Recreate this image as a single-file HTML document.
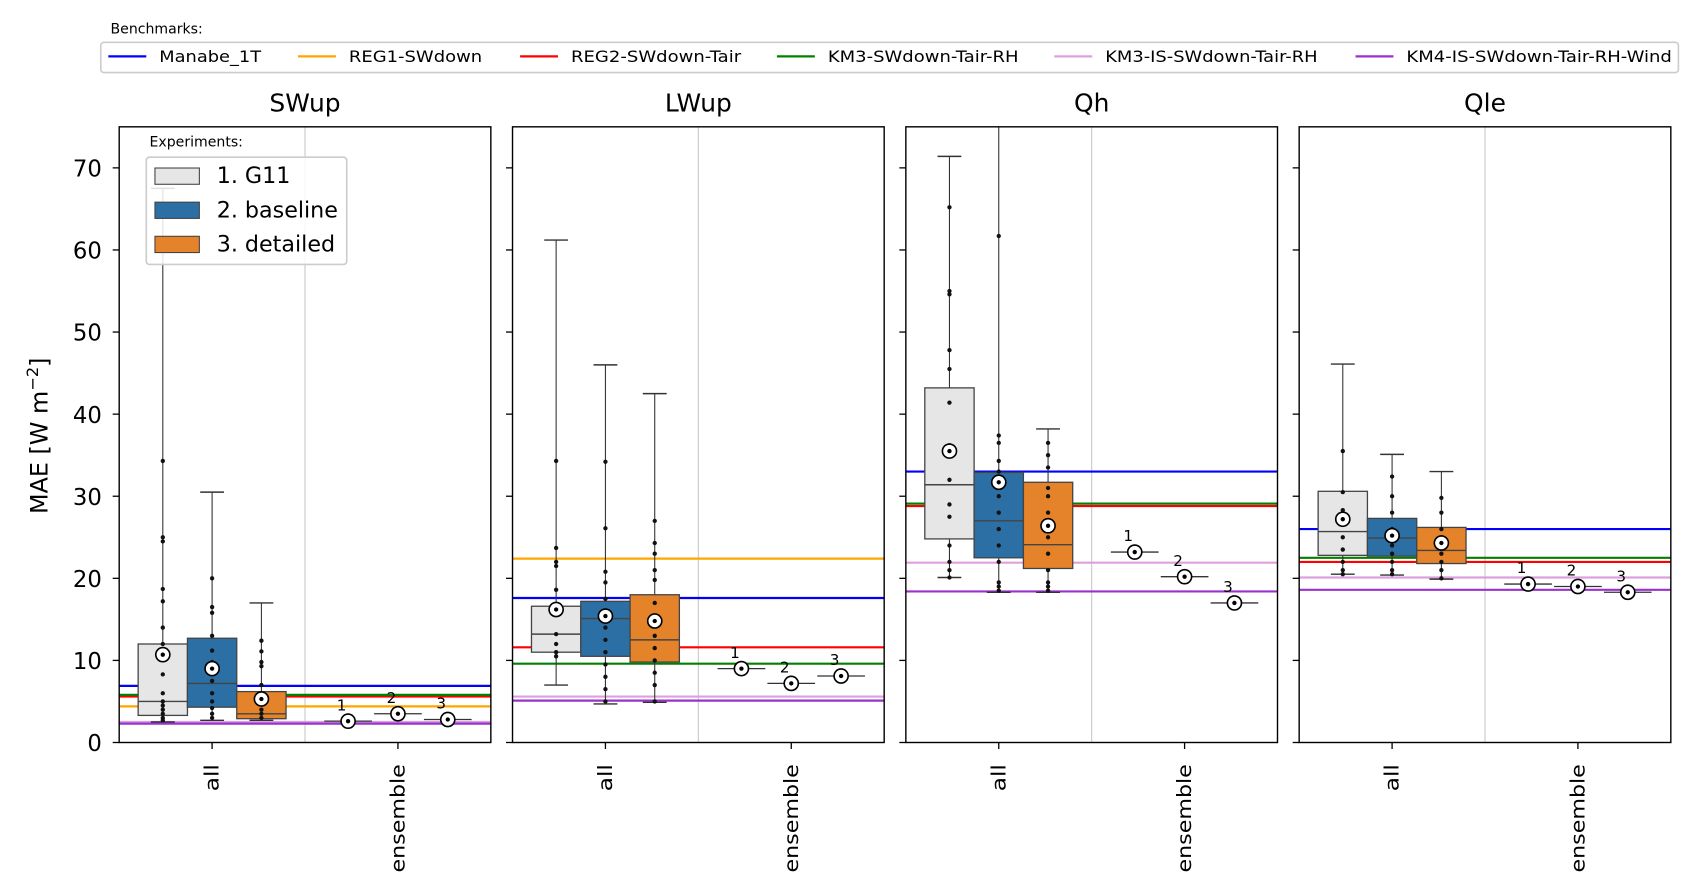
<!DOCTYPE html>
<html><head><meta charset="utf-8"><style>
html,body{margin:0;padding:0;background:#fff;}
svg{display:block;font-family:"DejaVu Sans","Liberation Sans",sans-serif;}
</style></head><body>
<svg id="chart" width="1699" height="891" viewBox="0 0 1568 822" preserveAspectRatio="none" xmlns="http://www.w3.org/2000/svg"></svg>
<script>
const panels = ["SWup","LWup","Qh","Qle"];
const yTicks = [0,10,20,30,40,50,60,70];
const benchNames = ["Manabe_1T","REG1-SWdown","REG2-SWdown-Tair","KM3-SWdown-Tair-RH","KM3-IS-SWdown-Tair-RH","KM4-IS-SWdown-Tair-RH-Wind"];
const benchColors = ["#0000ff","#ffa500","#ff0000","#008000","#dda0dd","#9932cc"];
const benchValues = [
  [6.9,4.4,5.6,5.8,2.5,2.3],
  [17.6,22.4,11.6,9.6,5.6,5.1],
  [33.0,28.9,28.8,29.1,21.9,18.4],
  [26.0,22.0,22.0,22.5,20.1,18.6]
];
const expNames = ["1. G11","2. baseline","3. detailed"];
const expColors = ["#e6e6e6","#2b6fa4","#e5832a"];
// box stats: [whiskLow, q1, median, q3, whiskHigh, mean]
const boxStats = [
  [[2.5,3.3,5.0,12.0,67.5,10.7],[2.7,4.3,7.2,12.7,30.5,9.0],[2.7,2.9,3.5,6.2,17.0,5.3]],
  [[7.0,11.0,13.2,16.6,61.2,16.2],[4.7,10.5,15.1,17.2,46.0,15.4],[4.9,9.8,12.5,18.0,42.5,14.8]],
  [[20.1,24.8,31.4,43.2,71.4,35.5],[18.3,22.5,27.0,32.9,80.0,31.7],[18.3,21.2,24.1,31.7,38.2,26.4]],
  [[20.5,22.8,25.7,30.6,46.1,27.2],[20.4,22.7,24.9,27.3,35.1,25.2],[19.9,21.8,23.4,26.2,33.0,24.3]]
];
const pointValues = [
  [[34.3,25,24.5,18.7,17.2,14,12,10.8,8.3,6,5,4.5,4,3.5,3,2.7],[20,16.5,15.8,13,11.2,9.8,8.7,7.5,6,5,4.2,3.5,3],[12.4,11.1,9.8,9.3,7,6,5,4,3.5,3]],
  [[34.3,23.7,22,21.5,18.6,16.5,15.8,13.2,12,11,10.5],[34.2,26.1,20.8,19.5,17.5,16,14,12.5,11,9.5,8,6.5,5],[27,24.3,23,21,19.8,17,15,13,11.5,10,8.5,7,5]],
  [[65.2,55,54.6,47.8,45.5,41.4,36.2,35.2,32,29,27.5,24,22,21,20.1],[61.7,37.4,36.5,34.3,33,32,30,28,26,24,22,19.5,19,18.5],[36.5,35,33.5,31,30,28,26,25,23,21,19.5,19,18.5]],
  [[35.5,30.5,28.3,27,25,23.5,22,21,20.5],[32.4,30,28,26,25,24,23,22,21,20.5],[29.8,28,26,25,24,23,22,21,20]]
];
const ensembleValues = [[2.6,3.5,2.8],[9.0,7.2,8.1],[23.2,20.2,17.0],[19.3,19.0,18.3]];

const NS="http://www.w3.org/2000/svg";
const svg=document.getElementById('chart');
function mk(tag,attrs,parent,text){const e=document.createElementNS(NS,tag);for(const k in attrs)e.setAttribute(k,attrs[k]);if(text!==undefined)e.textContent=text;(parent||svg).appendChild(e);return e;}
const panelX=[110,473,836,1199], PW=343, YT=117, YB=685, YMAX=75;
const y=v=>YB-(v/YMAX)*(YB-YT);
const BW=45.5;

// Benchmarks legend
let t=mk('text',{x:102,y:31,'font-size':13});
t.textContent='Benchmarks:';
let lb=mk('rect',{x:93,y:39,width:1456,height:28,rx:3,fill:'#fff',stroke:'#ccc','stroke-width':1.5});

const legX=[100,275,480,717,973,1251];
const legW=[94,123,157,176,196,245];
benchNames.forEach((n,i)=>{
  const g=mk('g',{});
  
  
  mk('line',{x1:legX[i],x2:legX[i]+35,y1:52,y2:52,stroke:benchColors[i],'stroke-width':2},g);
  mk('text',{x:legX[i]+47,y:57,'font-size':15,textLength:legW[i],lengthAdjust:'spacingAndGlyphs'},g,n);
});

// y-axis title
let yt=mk('text',{x:0,y:0,'font-size':22,'text-anchor':'middle',transform:'translate(44,402) rotate(-90)'});

yt.innerHTML='MAE [W m<tspan font-size="15" dy="-9">−2</tspan><tspan dy="9">]</tspan>';

panels.forEach((p,pi)=>{
  const x0=panelX[pi];
  const g=mk('g',{});
  
  
  const ti=mk('text',{x:x0+PW/2,y:103,'font-size':23,'text-anchor':'middle'},g,p);
  
  const cAll=x0+PW*0.25, cEns=x0+PW*0.75;
  mk('line',{x1:x0+PW/2,x2:x0+PW/2,y1:YT,y2:YB,stroke:'#c8c8c8','stroke-width':1},g);
  const cid='clip'+pi;
  const cp=mk('clipPath',{id:cid},g);mk('rect',{x:x0,y:YT,width:PW,height:YB-YT},cp);
  const inner=mk('g',{'clip-path':'url(#'+cid+')'},g);
  benchValues[pi].forEach((v,bi)=>{
    if(pi>=2&&bi===1)return;
    const l=mk('line',{x1:x0,x2:x0+PW,y1:y(v),y2:y(v),stroke:benchColors[bi],'stroke-width':2},inner);
    
  });
  boxStats[pi].forEach((s,ei)=>{
    const cx=cAll+(ei-1)*BW;
    const bg=mk('g',{},inner);
    
    
    mk('line',{x1:cx,x2:cx,y1:y(s[0]),y2:y(s[1]),stroke:'#333','stroke-width':1},bg);
    mk('line',{x1:cx,x2:cx,y1:y(s[3]),y2:y(s[4]),stroke:'#333','stroke-width':1},bg);
    mk('line',{x1:cx-11,x2:cx+11,y1:y(s[0]),y2:y(s[0]),stroke:'#333','stroke-width':1.3},bg);
    mk('line',{x1:cx-11,x2:cx+11,y1:y(s[4]),y2:y(s[4]),stroke:'#333','stroke-width':1.3},bg);
    mk('rect',{x:cx-BW/2,y:y(s[3]),width:BW,height:y(s[1])-y(s[3]),fill:expColors[ei],stroke:'#444','stroke-width':1.2},bg);
    mk('line',{x1:cx-BW/2,x2:cx+BW/2,y1:y(s[2]),y2:y(s[2]),stroke:'#444','stroke-width':1.3},bg);
    pointValues[pi][ei].forEach(v=>{mk('circle',{cx:cx,cy:y(v),r:2,fill:'#111'},bg);});
    mk('circle',{cx:cx,cy:y(s[5]),r:6.5,fill:'#fff',stroke:'#000','stroke-width':1.5},bg);
    mk('circle',{cx:cx,cy:y(s[5]),r:2,fill:'#000'},bg);
  });
  ensembleValues[pi].forEach((v,ei)=>{
    const cx=cEns+(ei-1)*46;
    const eg=mk('g',{},inner);
    
    
    mk('line',{x1:cx-22,x2:cx+22,y1:y(v),y2:y(v),stroke:'#333','stroke-width':1.2},eg);
    mk('circle',{cx:cx,cy:y(v),r:6.5,fill:'#fff',stroke:'#000','stroke-width':1.5},eg);
    mk('circle',{cx:cx,cy:y(v),r:2,fill:'#000'},eg);
    mk('text',{x:cx-6,y:y(v)-10,'font-size':14,'text-anchor':'middle'},eg,String(ei+1));
  });
  mk('rect',{x:x0,y:YT,width:PW,height:YB-YT,fill:'none',stroke:'#000','stroke-width':1.3},g);
  yTicks.forEach(v=>{
    mk('line',{x1:x0-6,x2:x0,y1:y(v),y2:y(v),stroke:'#000','stroke-width':1.2},g);
    if(pi===0){const tl=mk('text',{x:x0-16,y:y(v)+8,'font-size':21,'text-anchor':'end'},g,String(v));
      }
  });
  [[cAll,'all',25],[cEns,'ensemble',100]].forEach(([cx,lab,len])=>{
    mk('line',{x1:cx,x2:cx,y1:YB,y2:YB+6,stroke:'#000','stroke-width':1.2},g);
    const xl=mk('text',{x:0,y:0,'font-size':18,'text-anchor':'end',textLength:len,lengthAdjust:'spacingAndGlyphs',transform:`translate(${cx+6},${YB+20}) rotate(-90)`},g,lab);
    
  });
});

const eg=mk('g',{});

mk('text',{x:138,y:135,'font-size':13},eg,'Experiments:');
mk('rect',{x:135,y:145,width:185,height:99,rx:3,fill:'#fff','fill-opacity':0.85,stroke:'#ccc','stroke-width':1.5},eg);
expNames.forEach((n,i)=>{
  const cy=162+i*31.5;
  mk('rect',{x:143,y:cy-7,width:41,height:15,fill:expColors[i],stroke:'#444','stroke-width':1},eg);
  mk('text',{x:200,y:cy+7,'font-size':20.5},eg,n);
});
</script>
</body></html>
